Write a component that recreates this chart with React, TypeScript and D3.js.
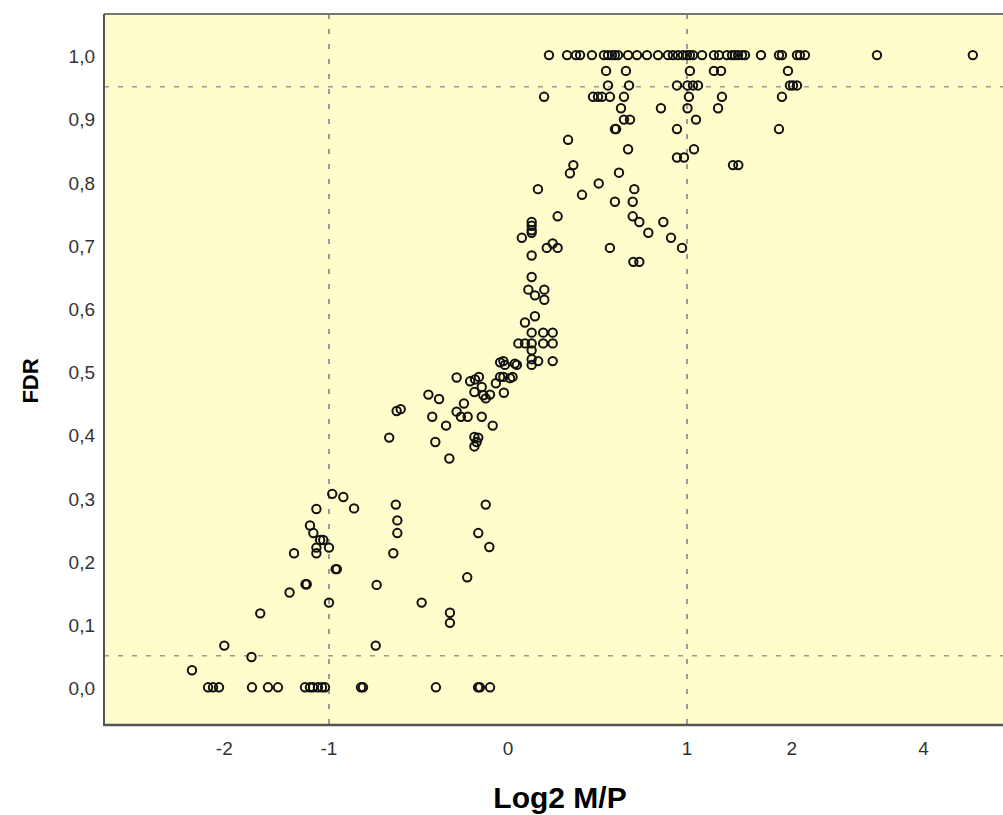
import React, { useEffect, useRef } from "react";
import * as d3 from "d3";

// Log2 M/P of the genes sitting at FDR = 1,0
const topRowX = [
  0.172, 0.257, 0.301, 0.322, 0.384, 0.45, 0.473, 0.496, 0.513, 0.531, 0.592, 0.648,
  0.713, 0.788, 0.858, 0.894, 0.931, 0.969, 1.0, 1.023, 1.047, 1.12, 1.22, 1.264,
  1.335, 1.381, 1.408, 1.437, 1.475, 1.504, 1.664, 1.856, 1.889, 2.062, 2.098, 2.158,
  3.174, 5.05,
];

// Log2 M/P of the genes sitting at FDR = 0,0
const bottomRowX = [
  -2.195, -2.134, -2.062, -1.695, -1.533, -1.437, -1.195, -1.153, -1.128, -1.087,
  -1.055, -1.031, -0.767, -0.753, -0.322, -0.123, -0.115, -0.072,
];

// [Log2 M/P, FDR], upper part of the cloud
const upperPoints: [number, number][] = [
  [0.462, 0.975], [0.579, 0.975], [1.023, 0.975], [1.22, 0.975], [1.282, 0.975], [1.957, 0.975],
  [0.473, 0.952], [0.598, 0.952], [0.924, 0.952], [1.004, 0.952], [1.047, 0.952], [1.087, 0.952],
  [1.98, 0.952], [2.015, 0.952], [2.062, 0.952],
  [0.15, 0.934], [0.39, 0.934], [0.417, 0.934], [0.439, 0.934], [0.484, 0.934], [0.567, 0.934],
  [1.015, 0.934], [1.29, 0.934], [1.889, 0.934],
  [0.549, 0.916], [0.808, 0.916], [1.004, 0.916], [1.256, 0.916],
  [0.567, 0.898], [0.604, 0.898], [1.071, 0.898],
  [0.513, 0.883], [0.52, 0.883], [0.924, 0.883], [1.856, 0.883],
  [0.262, 0.866], [0.592, 0.851], [1.055, 0.851], [0.924, 0.838], [0.977, 0.838],
  [0.288, 0.826], [1.39, 0.826], [1.44, 0.826], [0.271, 0.813], [0.537, 0.814],
  [0.421, 0.797], [0.123, 0.788], [0.631, 0.788], [0.332, 0.779],
  [0.513, 0.768], [0.621, 0.768], [0.212, 0.745], [0.621, 0.745],
  [0.096, 0.736], [0.663, 0.736], [0.825, 0.736], [0.096, 0.73], [0.096, 0.723],
  [0.096, 0.719], [0.722, 0.719], [0.055, 0.711], [0.88, 0.711], [0.189, 0.702],
  [0.162, 0.695], [0.212, 0.695], [0.484, 0.695], [0.962, 0.695], [0.096, 0.683],
  [0.625, 0.673], [0.663, 0.673], [0.096, 0.649],
];

// [Log2 M/P, FDR], middle of the cloud
const middlePoints: [number, number][] = [
  [0.082, 0.629], [0.151, 0.629], [0.11, 0.62], [0.151, 0.613], [0.11, 0.587], [0.068, 0.577],
  [0.096, 0.561], [0.146, 0.561], [0.189, 0.561],
  [0.041, 0.544], [0.068, 0.544], [0.096, 0.544], [0.146, 0.544], [0.189, 0.544], [0.096, 0.533],
  [0.096, 0.519], [0.096, 0.51], [0.124, 0.516], [0.189, 0.516],
  [-0.031, 0.514], [-0.018, 0.516], [-0.012, 0.51], [0.027, 0.512], [0.035, 0.51],
  [-0.031, 0.491], [-0.018, 0.491], [0.018, 0.491], [-0.119, 0.491], [0.008, 0.489],
  [-0.22, 0.49], [-0.158, 0.484], [-0.136, 0.487], [-0.048, 0.481], [-0.107, 0.475],
  [-0.016, 0.466], [-0.139, 0.467], [-0.361, 0.463], [-0.072, 0.463], [-0.1, 0.462],
  [-0.09, 0.457], [-0.306, 0.456], [-0.186, 0.449], [-0.515, 0.44], [-0.539, 0.437],
  [-0.22, 0.436], [-0.341, 0.428], [-0.2, 0.428], [-0.169, 0.428], [-0.107, 0.428],
  [-0.271, 0.414], [-0.061, 0.414], [-0.139, 0.396], [-0.122, 0.395], [-0.584, 0.395],
  [-0.325, 0.388], [-0.129, 0.388], [-0.139, 0.381], [-0.255, 0.362],
];

// [Log2 M/P, FDR], lower part of the cloud
const lowerPoints: [number, number][] = [
  [-0.975, 0.306], [-0.892, 0.301], [-0.544, 0.289], [-0.09, 0.289], [-0.815, 0.283],
  [-1.1, 0.282], [-0.535, 0.264], [-1.153, 0.256], [-0.535, 0.244], [-0.122, 0.244],
  [-1.125, 0.244], [-1.045, 0.233], [-1.07, 0.233], [-0.075, 0.222], [-1.1, 0.221],
  [-1.0, 0.221], [-1.29, 0.212], [-1.1, 0.212], [-0.559, 0.212], [-0.949, 0.187],
  [-0.94, 0.187], [-0.171, 0.174], [-1.19, 0.163], [-1.18, 0.163], [-0.663, 0.162],
  [-1.33, 0.15], [-1.0, 0.134], [-0.397, 0.134], [-0.252, 0.118], [-1.61, 0.117],
  [-0.252, 0.102], [-2.0, 0.066], [-0.669, 0.066], [-1.7, 0.048], [-2.4, 0.027],
];

const xTicks = [-2, -1, 0, 1, 2, 4];
const yTicks = [0, 0.1, 0.2, 0.3, 0.4, 0.5, 0.6, 0.7, 0.8, 0.9, 1.0];
const log2Cutoffs = [-1, 1];
const fdrCutoffs = [0.05, 0.95];

const W = 1003;
const H = 815;
const plot = { left: 104, top: 14, right: 1003, bottom: 725 };

export default function App() {
  const ref = useRef<SVGSVGElement>(null);

  useEffect(() => {
    const svg = d3.select(ref.current);
    svg.selectAll("*").remove();

    const x = d3.scaleSymlog().constant(1).domain([-3.78, 5.8]).range([plot.left, plot.right]);
    const y = d3.scaleLinear().domain([-0.0596, 1.065]).range([plot.bottom, plot.top]);

    const font = "'Liberation Sans', Arial, sans-serif";

    svg.append("rect")
      .attr("x", plot.left).attr("y", plot.top)
      .attr("width", plot.right - plot.left).attr("height", plot.bottom - plot.top)
      .attr("fill", "#fffdcc");

    // reference lines
    svg.selectAll(".hline").data(fdrCutoffs).join("line")
      .attr("x1", plot.left).attr("x2", plot.right)
      .attr("y1", d => y(d)).attr("y2", d => y(d))
      .attr("stroke", "#9a9a9a").attr("stroke-width", 1.5)
      .attr("stroke-dasharray", "5,9");

    svg.selectAll(".vline").data(log2Cutoffs).join("line")
      .attr("x1", d => x(d)).attr("x2", d => x(d))
      .attr("y1", plot.top).attr("y2", plot.bottom)
      .attr("stroke", "#9a9a9a").attr("stroke-width", 2)
      .attr("stroke-dasharray", "5,10");

    const all: [number, number][] = [
      ...topRowX.map(v => [v, 1.0] as [number, number]),
      ...bottomRowX.map(v => [v, 0] as [number, number]),
      ...upperPoints,
      ...middlePoints,
      ...lowerPoints,
    ];

    svg.append("g").selectAll("circle").data(all).join("circle")
      .attr("cx", d => x(d[0]))
      .attr("cy", d => y(d[1]))
      .attr("r", 4.2)
      .attr("fill", "none")
      .attr("stroke", "#111")
      .attr("stroke-width", 2);

    // frame
    svg.append("line")
      .attr("x1", plot.left).attr("x2", plot.right)
      .attr("y1", plot.top).attr("y2", plot.top)
      .attr("stroke", "#777").attr("stroke-width", 2);
    svg.append("line")
      .attr("x1", plot.left).attr("x2", plot.left)
      .attr("y1", plot.top).attr("y2", plot.bottom)
      .attr("stroke", "#555").attr("stroke-width", 2);
    svg.append("line")
      .attr("x1", plot.left - 1).attr("x2", plot.right)
      .attr("y1", plot.bottom).attr("y2", plot.bottom)
      .attr("stroke", "#555").attr("stroke-width", 2.5);

    const fmt = d3.format(".1f");
    svg.selectAll(".ylab").data(yTicks).join("text")
      .attr("x", 95).attr("y", d => y(d) + 8)
      .attr("text-anchor", "end")
      .attr("font-family", font).attr("font-size", 19)
      .attr("fill", "#333")
      .text(d => fmt(d).replace(".", ","));

    svg.selectAll(".xlab").data(xTicks).join("text")
      .attr("x", d => x(d)).attr("y", 755)
      .attr("text-anchor", "middle")
      .attr("font-family", font).attr("font-size", 19)
      .attr("fill", "#333")
      .text(d => String(d));

    svg.append("text")
      .attr("x", 560).attr("y", 808)
      .attr("text-anchor", "middle")
      .attr("font-family", font).attr("font-size", 30).attr("font-weight", "bold")
      .attr("fill", "#000")
      .text("Log2 M/P");

    svg.append("text")
      .attr("transform", "translate(38, 381) rotate(-90)")
      .attr("text-anchor", "middle")
      .attr("font-family", font).attr("font-size", 22).attr("font-weight", "bold")
      .attr("fill", "#000")
      .text("FDR");
  }, []);

  return (
    <svg ref={ref} width={W} height={H}
      style={{ position: "absolute", left: 0, top: 0, background: "#fff" }} />
  );
}
